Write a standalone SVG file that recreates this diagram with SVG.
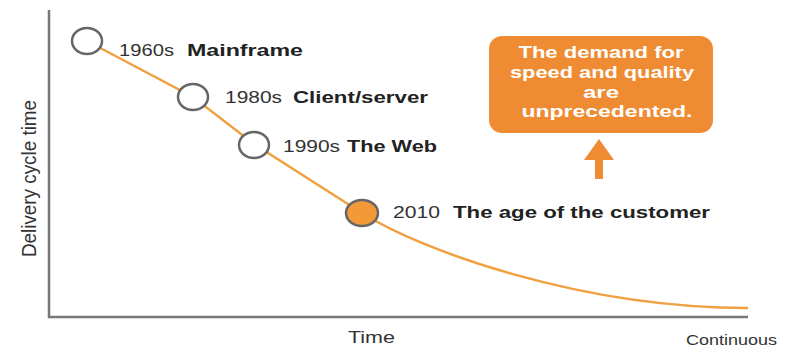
<svg xmlns="http://www.w3.org/2000/svg" width="790" height="349" viewBox="0 0 790 349">
<style>
.lbl{font-family:"Liberation Sans",Arial,sans-serif;font-size:17px;fill:#333}
.b{font-weight:bold;fill:#222}
.axis{stroke:#777;stroke-width:2.5;fill:none}
.pt{fill:#fff;stroke:#666;stroke-width:2.5}
.box{font-family:"Liberation Sans",Arial,sans-serif;font-size:17px;font-weight:bold;fill:#fff}
</style>
<rect width="790" height="349" fill="#fff"/>
<g id="axes">
<path class="axis" d="M49,10 V317 H748"/>
<text class="lbl" x="348" y="343" textLength="47" lengthAdjust="spacingAndGlyphs">Time</text>
<text class="lbl" x="686" y="345" style="font-size:14px" textLength="91" lengthAdjust="spacingAndGlyphs">Continuous</text>
<text class="lbl" transform="translate(36,257) rotate(-90) scale(1,1.2)" x="0" y="0" style="font-size:16.5px" textLength="157" lengthAdjust="spacingAndGlyphs">Delivery cycle time</text>
</g>
<g id="connectors">
<path d="M87,41 L193,97 L254,144 L362,213 C420,250 580,308 748,308" fill="none" stroke="#F0A040" stroke-width="2.5"/>
</g>
<g id="n1960">
<ellipse class="pt" cx="87" cy="41" rx="15" ry="13"/>
<text class="lbl" x="119" y="56" textLength="55" lengthAdjust="spacingAndGlyphs">1960s</text>
<text class="lbl b" x="187" y="56" textLength="116" lengthAdjust="spacingAndGlyphs">Mainframe</text>
</g>
<g id="n1980">
<ellipse class="pt" cx="193" cy="97" rx="15" ry="13"/>
<text class="lbl" x="225" y="103" textLength="57" lengthAdjust="spacingAndGlyphs">1980s</text>
<text class="lbl b" x="293" y="103" textLength="135" lengthAdjust="spacingAndGlyphs">Client/server</text>
</g>
<g id="n1990">
<ellipse class="pt" cx="254" cy="145" rx="15" ry="13"/>
<text class="lbl" x="283" y="152" textLength="57" lengthAdjust="spacingAndGlyphs">1990s</text>
<text class="lbl b" x="347" y="152" textLength="90" lengthAdjust="spacingAndGlyphs">The Web</text>
</g>
<g id="n2010">
<ellipse class="pt" cx="362" cy="213" rx="16" ry="13" style="fill:#F29A38"/>
<text class="lbl" x="393" y="218" textLength="47" lengthAdjust="spacingAndGlyphs">2010</text>
<text class="lbl b" x="453" y="218" textLength="257" lengthAdjust="spacingAndGlyphs">The age of the customer</text>
</g>
<g id="callout">
<rect x="489" y="36" width="224" height="97" rx="13" fill="#EF8B32"/>
<text class="box" x="601" y="58" text-anchor="middle" textLength="165" lengthAdjust="spacingAndGlyphs">The demand for</text>
<text class="box" x="602" y="78" text-anchor="middle" textLength="184" lengthAdjust="spacingAndGlyphs">speed and quality</text>
<text class="box" x="601" y="98" text-anchor="middle" textLength="36" lengthAdjust="spacingAndGlyphs">are</text>
<text class="box" x="607" y="117" text-anchor="middle" textLength="171" lengthAdjust="spacingAndGlyphs">unprecedented.</text>
<path d="M599,139 L614,160 L603,160 L603,179 L595,179 L595,160 L584,160 Z" fill="#EF8B32"/>
</g>
</svg>
